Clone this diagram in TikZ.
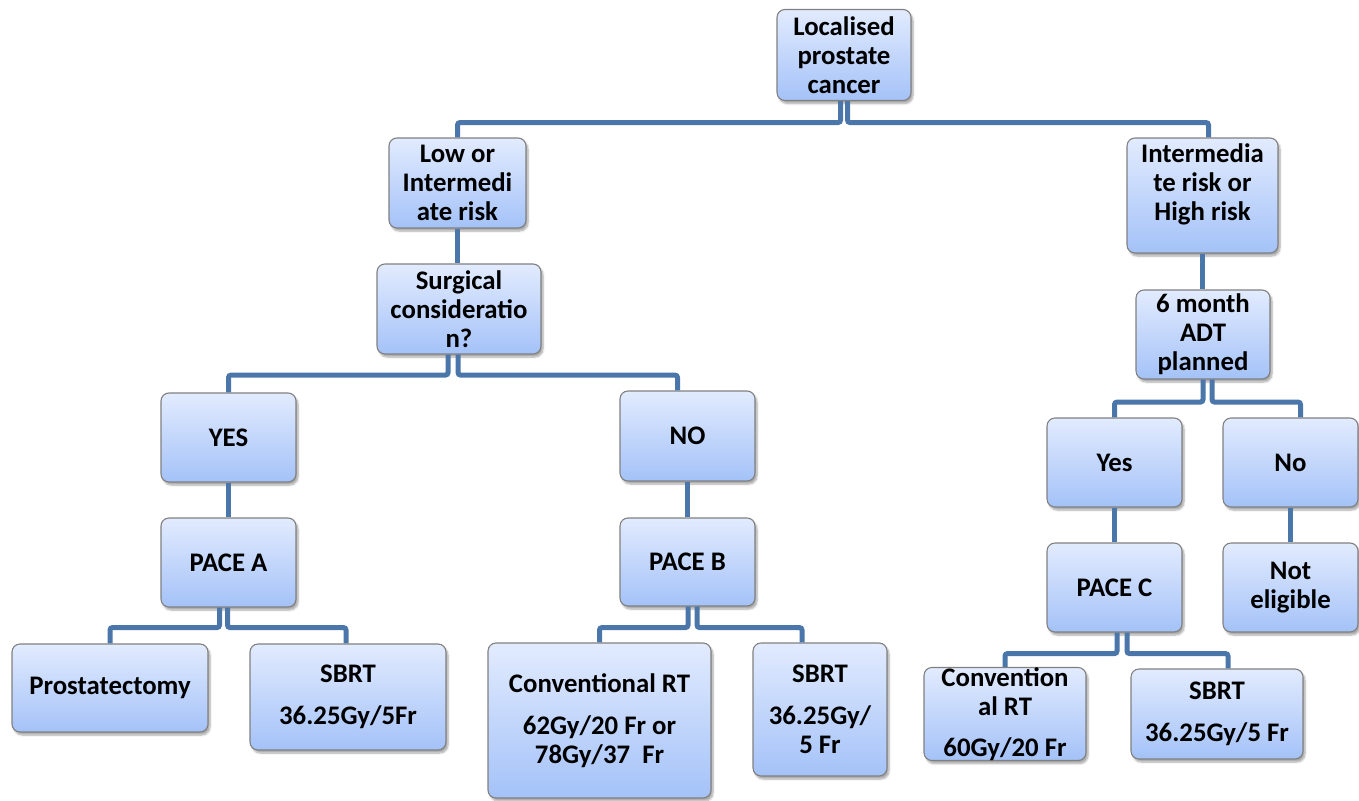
\documentclass[tikz,border=0pt]{standalone}
\usepackage{fontspec}
\setmainfont{Carlito}
\usetikzlibrary{shadows.blur}
\definecolor{conncol}{RGB}{74,118,170}
\definecolor{boxtop}{RGB}{226,235,254}
\definecolor{boxbot}{RGB}{164,194,248}
\definecolor{boxline}{RGB}{128,128,128}
\tikzset{
  box/.style={draw=boxline, line width=1.1pt, rounded corners=8pt,
    top color=boxtop, bottom color=boxbot, align=center, inner sep=0pt,
    font=\bfseries\fontsize{26.8}{29}\selectfont,
    blur shadow={shadow xshift=2pt, shadow yshift=-3pt, shadow blur steps=6, shadow opacity=35}},
  conn/.style={draw=conncol, line width=5pt, rounded corners=2.5pt}
}
\begin{document}
\begin{tikzpicture}[x=1pt,y=-1pt]
\useasboundingbox (0,0) rectangle (1359,800);
% boxes
\node[box, minimum width=134, minimum height=91] (loc) at (844,55) {Localised\\prostate\\cancer};
\node[box, minimum width=137, minimum height=90] (low) at (457.5,183) {Low or\\Intermedi\\ate risk};
\node[box, minimum width=151, minimum height=115] (inter) at (1202.5,195.5) {Intermedia\\te risk or\\High risk\\[-2pt]\mbox{}};
\node[box, minimum width=164, minimum height=90] (surg) at (459,309) {Surgical\\consideratio\\n?};
\node[box, minimum width=134, minimum height=89] (adt) at (1203,334.5) {6 month\\ADT\\planned};
\node[box, minimum width=135, minimum height=89] (yesL) at (228.5,437.5) {YES};
\node[box, minimum width=135, minimum height=90] (noL) at (687.5,436) {NO};
\node[box, minimum width=135, minimum height=89] (yesR) at (1114.5,462.5) {Yes};
\node[box, minimum width=135, minimum height=89] (noR) at (1290.5,462.5) {No};
\node[box, minimum width=135, minimum height=89] (paceA) at (228.5,562.5) {PACE A};
\node[box, minimum width=135, minimum height=88] (paceB) at (687.5,562) {PACE B};
\node[box, minimum width=135, minimum height=89] (paceC) at (1114.5,587.5) {PACE C};
\node[box, minimum width=135, minimum height=89] (noteli) at (1290.5,587.5) {Not\\eligible};
\node[box, minimum width=196, minimum height=88] (prost) at (110,688) {Prostatectomy};
\node[box, minimum width=196, minimum height=106] (sbrtA) at (348,697) {SBRT\\[13pt]36.25Gy/5Fr};
\node[box, minimum width=223, minimum height=155] (convB) at (599.5,720.5) {Conventional RT\\[13pt]62Gy/20 Fr or\\78Gy/37\ \ Fr};
\node[box, minimum width=134, minimum height=133] (sbrtB) at (820,709.5) {SBRT\\[13pt]36.25Gy/\\5 Fr};
\node[box, minimum width=162, minimum height=90] (convC) at (1005,714) {Convention\\al RT\\[12pt]60Gy/20 Fr};
\node[box, minimum width=172, minimum height=90] (sbrtC) at (1217,714) {SBRT\\[13pt]36.25Gy/5 Fr};
% connectors
\draw[conn] ([xshift=-3.5pt]loc.south) -- ++(0,21.5) -| (low.north);
\draw[conn] ([xshift=3.5pt]loc.south) -- ++(0,21.5) -| ([xshift=6pt]inter.north);
\draw[conn] (low.south) -- (low.south |- surg.north);
\draw[conn] ([xshift=-11pt]surg.south) -- ++(0,20.5) -| (yesL.north);
\draw[conn] ([xshift=-1pt]surg.south) -- ++(0,20.5) -| ([xshift=-10pt]noL.north);
\draw[conn] (inter.south) -- (inter.south |- adt.north);
\draw[conn] (adt.south) -- ++(0,22.5) -| (yesR.north);
\draw[conn] ([xshift=9pt]adt.south) -- ++(0,22.5) -| ([xshift=10pt]noR.north);
\draw[conn] (yesL.south) -- (paceA.north);
\draw[conn] (noL.south) -- (paceB.north);
\draw[conn] (yesR.south) -- (paceC.north);
\draw[conn] (noR.south) -- (noteli.north);
\draw[conn] ([xshift=-9pt]paceA.south) -- ++(0,20) -| (prost.north);
\draw[conn] ([xshift=-1pt]paceA.south) -- ++(0,20) -| ([xshift=-2pt]sbrtA.north);
\draw[conn] ([xshift=0.5pt]paceB.south) -- ++(0,21) -| (convB.north);
\draw[conn] ([xshift=9.5pt]paceB.south) -- ++(0,21) -| ([xshift=-18pt]sbrtB.north);
\draw[conn] ([xshift=2.5pt]paceC.south) -- ++(0,21) -| (convC.north);
\draw[conn] ([xshift=12.5pt]paceC.south) -- ++(0,21) -| ([xshift=11pt]sbrtC.north);
\end{tikzpicture}
\end{document}
